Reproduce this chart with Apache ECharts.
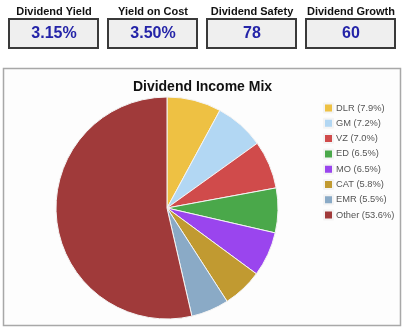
<!DOCTYPE html>
<html><head><meta charset="utf-8">
<script src="https://cdn.jsdelivr.net/npm/echarts@6/dist/echarts.min.js"></script>
<style>html,body{margin:0;padding:0;background:#fff;}#c{width:405px;height:330px;}</style>
</head><body><div id="c"></div>
<script>
var metricLabels = ['Dividend Yield', 'Yield on Cost', 'Dividend Safety', 'Dividend Growth'];
var metricValues = ['3.15%', '3.50%', '78', '60'];
var categories = ['DLR', 'GM', 'VZ', 'ED', 'MO', 'CAT', 'EMR', 'Other'];
var shares = [7.9, 7.2, 7.0, 6.5, 6.5, 5.8, 5.5, 53.6];
var colors = ['#eec143', '#b2d7f3', '#d04b4b', '#4aa84a', '#9a45ee', '#c19a31', '#8aaac6', '#a03a3a'];

var chart = echarts.init(document.getElementById('c'), null, {renderer: 'canvas'});
var graphics = [];
graphics.push({type: 'rect', z: -10, shape: {x: 3.5, y: 68.5, width: 397, height: 257}, style: {fill: '#fdfdfd', stroke: '#a8a8a8', lineWidth: 1.5}});
var boxX = [9, 108, 207, 306];
metricLabels.forEach(function (lab, i) {
  var x = boxX[i];
  graphics.push({type: 'text', style: {text: lab, x: x + 45, y: 12, align: 'center', verticalAlign: 'middle', font: 'bold 11px "Liberation Sans", Arial, sans-serif', fill: '#111'}});
  graphics.push({type: 'rect', shape: {x: x, y: 19, width: 89, height: 29}, style: {fill: '#efefef', stroke: '#3a3a3a', lineWidth: 2}});
  graphics.push({type: 'text', style: {text: metricValues[i], x: x + 45, y: 34, align: 'center', verticalAlign: 'middle', font: 'bold 16px "Liberation Sans", Arial, sans-serif', fill: '#2424a8'}});
});

var data = categories.map(function (c, i) { return {name: c, value: shares[i]}; });

chart.setOption({
  animation: false,
  color: colors,
  title: {text: 'Dividend Income Mix', left: 'center', top: 75, textStyle: {fontFamily: '"Liberation Sans", Arial, sans-serif', fontSize: 14, fontWeight: 'bold', color: '#111'}},
  legend: {
    orient: 'vertical', left: 323, top: 102.5, padding: 0, itemWidth: 9, itemHeight: 9, itemGap: 4.3,
    icon: 'rect',
    textStyle: {fontFamily: '"Liberation Sans", Arial, sans-serif', fontSize: 9.3, color: '#555', padding: [0, 0, 0, -2], lineHeight: 11},
    formatter: function (name) { var i = categories.indexOf(name); return name + ' (' + shares[i].toFixed(1) + '%)'; }
  },
  graphic: graphics,
  series: [{
    type: 'pie', center: [167, 208], radius: 111, startAngle: 90, clockwise: true,
    label: {show: false}, labelLine: {show: false},
    itemStyle: {borderColor: '#f4f4f4', borderWidth: 1},
    emphasis: {disabled: true},
    data: data
  }]
});
</script></body></html>
